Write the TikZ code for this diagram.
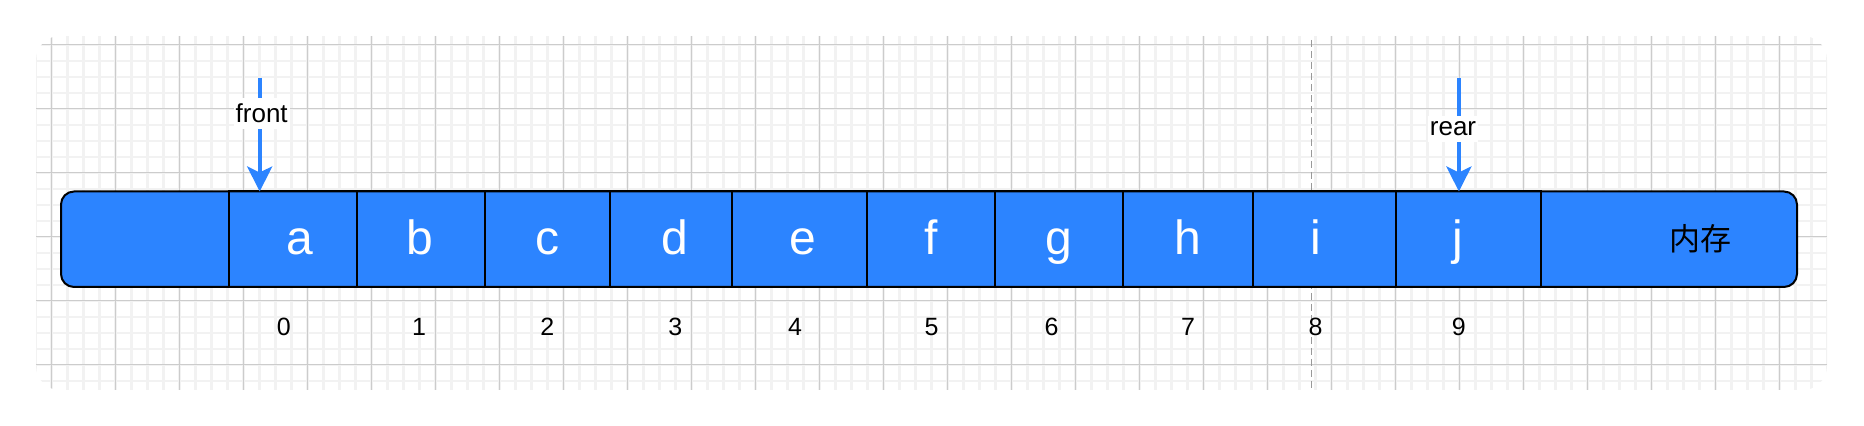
\documentclass[tikz,border=0pt]{standalone}
\usepackage{fontspec}
\setmainfont{Liberation Sans}
\newfontfamily\cjk{Noto Sans CJK SC}
\usetikzlibrary{positioning}
\usetikzlibrary{arrows.meta}

\definecolor{memblue}{RGB}{44,132,255}
\definecolor{gridlight}{RGB}{242,242,242}
\definecolor{griddark}{RGB}{204,204,204}

\begin{document}
\begin{tikzpicture}[x=0.5pt, y=-0.5pt
  , memory/.style={ draw, line width=1pt, fill=memblue
                  , rounded corners=6.5pt
                  , minimum width=868pt, minimum height=47.75pt
                  , outer sep=0pt, inner sep=0pt }
  , slot/.style={ draw, line width=1pt
                , minimum height=47.75pt
                , outer sep=0pt, inner sep=0pt }
  , letter/.style={ text=white, font=\fontsize{24}{28}\selectfont
                  , anchor=base, inner sep=0pt }
  , index/.style={ font=\fontsize{12.5}{15}\selectfont
                 , anchor=base, inner sep=0pt }
  , pointer/.style={ draw=memblue, line width=2pt
                   , -{Stealth[length=12.5pt, width=12.5pt, inset=3pt]} }
  , tag/.style={ fill=white, font=\fontsize{13}{15}\selectfont
               , anchor=base, inner xsep=1pt, inner ysep=3pt }
  ]

  \useasboundingbox (0,0) rectangle (1864,426);

  \begin{scope}
    \clip [rounded corners=12pt] (36,36) rectangle (1827,390);
    \foreach \gx in {35.4,51.4,...,1830}
      \draw [gridlight, line width=1.1pt] (\gx,36) -- (\gx,390);
    \foreach \gy in {45,61,...,390}
      \draw [gridlight, line width=1.1pt] (36,\gy) -- (1827,\gy);
    \foreach \gx in {51.4,115.4,...,1800}
      \draw [griddark, line width=0.5pt] (\gx,36) -- (\gx,390);
    \foreach \gy in {45,109,...,390}
      \draw [griddark, line width=0.5pt] (36,\gy) -- (1827,\gy);
  \end{scope}

  \coordinate (guidetop) at (1311.6,40);
  \coordinate (guidebot) at (1311.6,390);
  \draw [gray!80, line width=0.7pt, dash pattern=on 3.5pt off 2pt] (guidetop) -- (guidebot);

  \node [memory] (mem) at (929,239.25) {};

  \foreach \xa/\xb/\ch/\cx/\nx [count=\num from 0] in
    { 229/357/a/299.6/283.8
    , 357/484.6/b/419.8/419
    , 484.6/610/c/547.4/547.4
    , 610/732/d/675.3/675.3
    , 732/867.4/e/803/795
    , 867.4/995/f/931.5/931.5
    , 995/1123/g/1058.7/1051.6
    , 1123/1253/h/1188/1188
    , 1253/1396/i/1315.6/1315.6
    , 1396/1541/j/1458/1458.9
    }
  {
    \node [slot, minimum width=(\xb-\xa)*0.5pt] (slot\num) at ({(\xa+\xb)/2},239.25) {};
    \node [letter] (char\num) at (\cx,255) {\ch};
    \node [index] (idx\num) at (\nx,336) {\num};
  }

  \node [letter, text=black, font=\cjk\fontsize{15.5}{18}\selectfont] (memname) at (1700,251) {内存};

  \coordinate (fronttail) at (259.7,78);
  \coordinate (reartail) at (1458.9,78);
  \draw [pointer] (fronttail) -- (fronttail |- mem.north);
  \draw [pointer] (reartail) -- (reartail |- mem.north);

  \node [tag] (frontname) at (261.7,123) {front};
  \node [tag] (rearname) at (1453,136) {rear};

\end{tikzpicture}
\end{document}
